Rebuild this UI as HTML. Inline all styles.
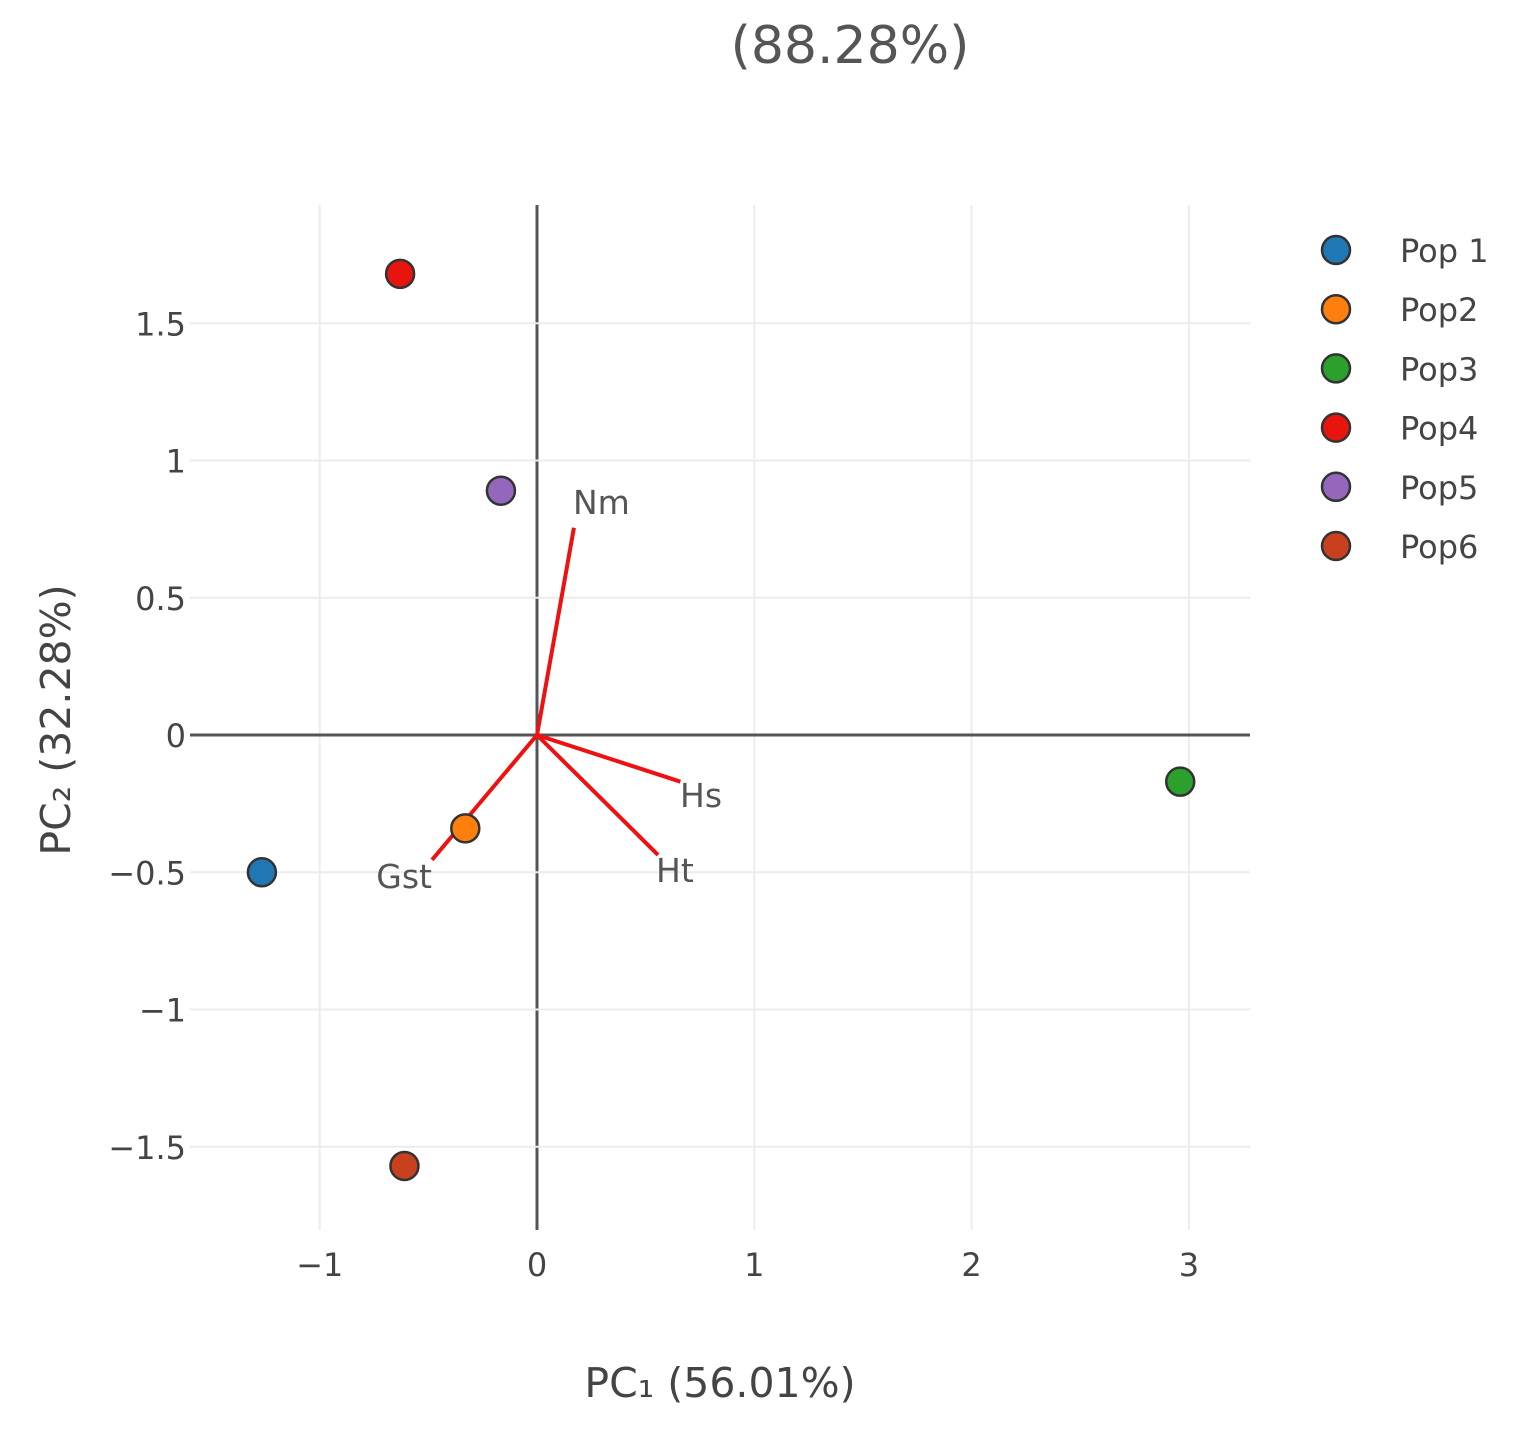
<!DOCTYPE html>
<html><head><meta charset="utf-8"><style>
body{margin:0;background:#fff;}
svg text{font-family:"DejaVu Sans","Liberation Sans",sans-serif;}
</style></head><body>
<svg id="chart" width="1515" height="1430" viewBox="0 0 1515 1430"></svg>
<script>
const popNames=["Pop 1","Pop2","Pop3","Pop4","Pop5","Pop6"];
const popX=[-1.266,-0.33,2.96,-0.63,-0.166,-0.61];
const popY=[-0.5,-0.34,-0.17,1.68,0.89,-1.57];
const popColors=["#1f77b4","#ff7f0e","#2ca02c","#e8150f","#9467bd","#c8401e"];
const loadNames=["Nm","Hs","Ht","Gst"];
const loadX=[0.17,0.66,0.557,-0.483];
const loadY=[0.755,-0.17,-0.437,-0.455];
const xTicks=[-1,0,1,2,3];
const xTickLabels=["\u22121","0","1","2","3"];
const yTicks=[-1.5,-1,-0.5,0,0.5,1,1.5];
const yTickLabels=["\u22121.5","\u22121","\u22120.5","0","0.5","1","1.5"];

const svg=document.getElementById('chart');
const NS="http://www.w3.org/2000/svg";
const L=190,R=1250,T=205,B=1230;
const sx=v=>537+v*217.3;
const sy=v=>735-v*274.5;
function mk(tag,attrs,parent){const e=document.createElementNS(NS,tag);for(const k in attrs)e.setAttribute(k,attrs[k]);(parent||svg).appendChild(e);return e;}

xTicks.forEach((t,i)=>{
 const g=mk('line',{x1:sx(t),x2:sx(t),y1:T,y2:B,stroke:t===0?'#555':'#ececec','stroke-width':t===0?3:2});
 
 
 const tx=mk('text',{x:sx(t),y:1276,'text-anchor':'middle','font-size':32,fill:'#444'});
 tx.textContent=xTickLabels[i];
 
 
});
yTicks.forEach((t,i)=>{
 const g=mk('line',{x1:L,x2:R,y1:sy(t),y2:sy(t),stroke:t===0?'#555':'#ececec','stroke-width':t===0?3:2});
 
 
 const tx=mk('text',{x:186,y:sy(t)+12,'text-anchor':'end','font-size':32,fill:'#444'});
 tx.textContent=yTickLabels[i];
 
 
});

loadNames.forEach((n,i)=>{
 const l=mk('line',{x1:sx(0),y1:sy(0),x2:sx(loadX[i]),y2:sy(loadY[i]),stroke:'#ee1111','stroke-width':4});
 
 
});
const labelPos=[[573,514,'start'],[680,807,'start'],[656,882,'start'],[432,888,'end']];
loadNames.forEach((n,i)=>{
 const t=mk('text',{x:labelPos[i][0],y:labelPos[i][1],'text-anchor':labelPos[i][2],'font-size':33,fill:'#555'});
 t.textContent=n;
 
 
});

popNames.forEach((n,i)=>{
 const c=mk('circle',{cx:sx(popX[i]),cy:sy(popY[i]),r:14,fill:popColors[i],stroke:'#333','stroke-width':2.5});
 
 
 const lc=mk('circle',{cx:1336,cy:250+i*59.2,r:14,fill:popColors[i],stroke:'#333','stroke-width':2.5});
 
 
 const lt=mk('text',{x:1400,y:262+i*59.2,'font-size':32,fill:'#444'});
 lt.textContent=n;
 
 
});

const title=mk('text',{x:850,y:63,'text-anchor':'middle','font-size':52,fill:'#555'});
title.textContent='(88.28%)';


const xt=mk('text',{x:720,y:1397,'text-anchor':'middle','font-size':41,fill:'#444'});
xt.textContent='PC\u2081 (56.01%)';


const yt=mk('text',{x:70,y:720,'text-anchor':'middle','font-size':41,fill:'#444',transform:'rotate(-90 70 720)'});
yt.textContent='PC\u2082 (32.28%)';


</script>
</body></html>
